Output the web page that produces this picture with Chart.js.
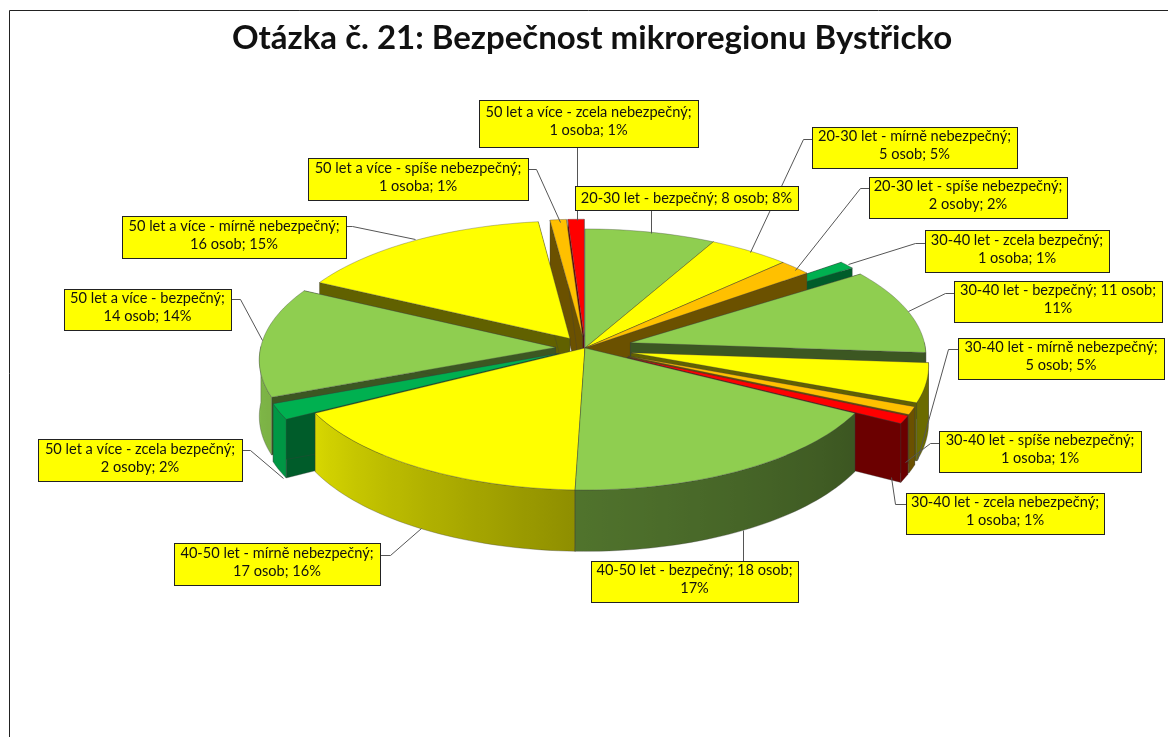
<!DOCTYPE html>
<html>
<head>
<meta charset="utf-8">
<style>html,body{margin:0;padding:0;background:#fff}canvas{display:block;filter:blur(.35px)}</style>
<script src="https://cdn.jsdelivr.net/npm/chart.js@4"></script>
</head>
<body>
<canvas id="c" width="1168" height="737"></canvas>
<script>
const titleText = 'Otázka č. 21: Bezpečnost mikroregionu Bystřicko';
const categories = [
  '20-30 let - bezpečný','20-30 let - mírně nebezpečný','20-30 let - spíše nebezpečný',
  '30-40 let - zcela bezpečný','30-40 let - bezpečný','30-40 let - mírně nebezpečný',
  '30-40 let - spíše nebezpečný','30-40 let - zcela nebezpečný',
  '40-50 let - bezpečný','40-50 let - mírně nebezpečný',
  '50 let a více - zcela bezpečný','50 let a více - bezpečný','50 let a více - mírně nebezpečný',
  '50 let a více - spíše nebezpečný','50 let a více - zcela nebezpečný'
];
const values   = [8,5,2,1,11,5,1,1,18,17,2,14,16,1,1];
const percents = [8,5,2,1,11,5,1,1,17,16,2,14,15,1,1];
const units    = ['osob','osob','osoby','osoba','osob','osob','osoba','osoba','osob','osob','osoby','osob','osob','osoba','osoba'];

const G='#8fce50', Y='#ffff00', O='#ffc000', R='#ff0000', D='#00b050';
const sliceColors = [G,Y,O,D,G,Y,O,R,G,Y,D,G,Y,O,R];
const explode = [0,0,0,48,48,48,48,48,0,0,30,30,27,27,27];
// label line break: parts on the first line (1 = category, 2 = + count, 3 = all)
const firstLineParts = [3,1,1,1,2,1,1,1,2,1,1,1,1,1,1];
// label boxes [left, top, right, bottom]
const boxes = [
  [575,186,798,210],[812,127,1017,168],[869,177,1067,218],
  [925,230,1109,272],[954,281,1162,322],[958,338,1164,379],
  [939,431,1141,472],[906,493,1104,534],
  [591,561,798,602],[174,543,380,585],
  [38,439,242,481],[64,289,231,330],[122,216,346,258],
  [308,158,528,200],[479,100,698,147]
];
// leader polylines
const leaders = [
  [[651,210],[651,233]],[[812,139],[803,139],[750,252]],[[869,188],[860,188],[795,270]],
  [[925,243],[915,243],[848,264]],[[954,293],[945,293],[908,311]],[[958,349],[948,349],[917,460]],
  [[939,443],[930,443],[905,462]],[[906,504],[895,504],[891,477]],
  [[743,561],[743,530]],[[380,555],[390,555],[421,528]],
  [[242,450],[250,450],[283,478]],[[231,299],[240,299],[262,340]],[[346,226],[352,226],[415,239]],
  [[528,169],[536,169],[560,222]],[[577,147],[577,220]]
];

// view of the pie disc
const view = {cx:585, cy:348, rx:295, ry:129.5, persp:11.4, depth:56};
const EXPLODE_REF = 300;
const darkFactor = {[G]:.42, [Y]:.38, [O]:.42, [R]:.42, [D]:.52};

function project(X, Y, z) {
  const s = 1 / (1 - Y / view.persp);
  return [view.cx + view.rx * X * s, view.cy + view.ry * Y * s + z * view.depth * s];
}
function shade(hex, b) {
  const n = parseInt(hex.slice(1), 16);
  return `rgb(${Math.round((n>>16&255)*b)},${Math.round((n>>8&255)*b)},${Math.round((n&255)*b)})`;
}
const shadeStops = [[-90,.42],[30,.42],[92,.56],[152,.85],[180,.9],[270,.9]];
function wallBrightness(deg) {
  while (deg > 270) deg -= 360;
  while (deg < -90) deg += 360;
  for (let i = 1; i < shadeStops.length; i++) {
    if (deg <= shadeStops[i][0]) {
      const [a, p] = shadeStops[i-1], [b, q] = shadeStops[i];
      return p + (q - p) * (deg - a) / (b - a);
    }
  }
  return .9;
}
function poly(ctx, pts) {
  ctx.beginPath();
  pts.forEach((p, i) => i ? ctx.lineTo(p[0], p[1]) : ctx.moveTo(p[0], p[1]));
  ctx.closePath();
}
function drawSlice(ctx, arc) {
  const {startAngle:a0, endAngle:a1} = arc.getProps(['startAngle','endAngle'], true);
  const color = arc.options.backgroundColor;
  const mid = (a0 + a1) / 2, f = arc.options.offset / EXPLODE_REF;
  const ox = Math.cos(mid) * f, oy = Math.sin(mid) * f;
  const edge = 'rgba(60,60,60,.55)';
  const rim = [];
  const n = Math.max(2, Math.ceil((a1 - a0) / (Math.PI / 120)));
  for (let i = 0; i <= n; i++) {
    const a = a0 + (a1 - a0) * i / n;
    rim.push([ox + Math.cos(a), oy + Math.sin(a), a]);
  }
  // radial walls
  const dark = shade(color, darkFactor[color] || .42);
  [rim[0], rim[n]].forEach(r => {
    poly(ctx, [project(ox,oy,0), project(r[0],r[1],0), project(r[0],r[1],1), project(ox,oy,1)]);
    ctx.fillStyle = dark; ctx.fill();
    ctx.strokeStyle = edge; ctx.lineWidth = .6; ctx.stroke();
  });
  // outer wall: only the part of the rim that faces the viewer
  const front = rim.filter(r => Math.sin(r[2]) > -0.01);
  if (front.length > 1) {
    const xs = front.map(r => project(r[0], r[1], 0)[0]);
    const xMin = Math.min(...xs), xMax = Math.max(...xs);
    const grad = ctx.createLinearGradient(xMin, 0, xMax, 0);
    front.forEach((r, i) => {
      const t = xMax > xMin ? (xs[i] - xMin) / (xMax - xMin) : 0;
      grad.addColorStop(t, shade(color, wallBrightness(r[2] * 180 / Math.PI)));
    });
    poly(ctx, front.map(r => project(r[0], r[1], 0)).concat(front.slice().reverse().map(r => project(r[0], r[1], 1))));
    ctx.fillStyle = grad; ctx.fill();
    ctx.strokeStyle = edge; ctx.lineWidth = .6; ctx.stroke();
  }
  // top face
  poly(ctx, [project(ox,oy,0)].concat(rim.map(r => project(r[0], r[1], 0))));
  ctx.fillStyle = color; ctx.fill();
  ctx.strokeStyle = edge; ctx.lineWidth = .6; ctx.stroke();
}

const pie3d = {
  id: 'pie3d',
  beforeDraw(chart) {
    const ctx = chart.ctx;
    ctx.save();
    ctx.strokeStyle = '#222'; ctx.lineWidth = 1;
    ctx.beginPath();
    ctx.moveTo(9.5, 737); ctx.lineTo(9.5, 10.5); ctx.lineTo(1168, 10.5);
    ctx.stroke();
    ctx.restore();
  },
  beforeDatasetDraw(chart, args) {
    const ctx = chart.ctx, arcs = args.meta.data.slice();
    const depthOf = arc => {
      const m = (arc.startAngle + arc.endAngle) / 2;
      return .6 * Math.sin(m) + Math.sin(m) * arc.options.offset / EXPLODE_REF;
    };
    arcs.sort((a, b) => depthOf(a) - depthOf(b));
    ctx.save();
    arcs.forEach(a => drawSlice(ctx, a));
    ctx.restore();
    return false;
  },
  afterDatasetsDraw(chart) {
    const ctx = chart.ctx;
    ctx.save();
    ctx.strokeStyle = '#555'; ctx.lineWidth = 1;
    leaders.forEach(l => {
      ctx.beginPath();
      l.forEach((p, i) => i ? ctx.lineTo(p[0] + .5, p[1] + .5) : ctx.moveTo(p[0] + .5, p[1] + .5));
      ctx.stroke();
    });
    ctx.font = '14.6px Lato';
    ctx.textAlign = 'center'; ctx.textBaseline = 'middle';
    boxes.forEach((b, i) => {
      ctx.fillStyle = '#ffff00';
      ctx.fillRect(b[0], b[1], b[2] - b[0], b[3] - b[1]);
      ctx.strokeStyle = '#222'; ctx.lineWidth = 1;
      ctx.strokeRect(b[0] + .5, b[1] + .5, b[2] - b[0], b[3] - b[1]);
      const parts = [categories[i] + ';', `${values[i]} ${units[i]};`, `${percents[i]}%`];
      const k = firstLineParts[i];
      const lines = [parts.slice(0, k).join(' ')];
      if (k < 3) lines.push(parts.slice(k).join(' '));
      const mx = (b[0] + b[2]) / 2, my = (b[1] + b[3]) / 2;
      ctx.fillStyle = '#111';
      lines.forEach((t, j) => {
        const y = lines.length === 1 ? my : my + (j === 0 ? -11 : 7);
        ctx.fillText(t, mx, y);
      });
    });
    ctx.restore();
  }
};

new Chart(document.getElementById('c'), {
  type: 'pie',
  plugins: [pie3d],
  data: {
    labels: categories,
    datasets: [{
      data: values,
      backgroundColor: sliceColors,
      offset: explode,
      borderWidth: 0
    }]
  },
  options: {
    responsive: false,
    animation: false,
    rotation: 0,
    layout: {padding: {left: 16}},
    plugins: {
      legend: {display: false},
      tooltip: {enabled: false},
      title: {
        display: true,
        text: titleText,
        color: '#111',
        font: {family: 'Lato', size: 33, weight: 'bold'},
        padding: {top: 19, bottom: 10}
      }
    }
  }
});
</script>
</body>
</html>
